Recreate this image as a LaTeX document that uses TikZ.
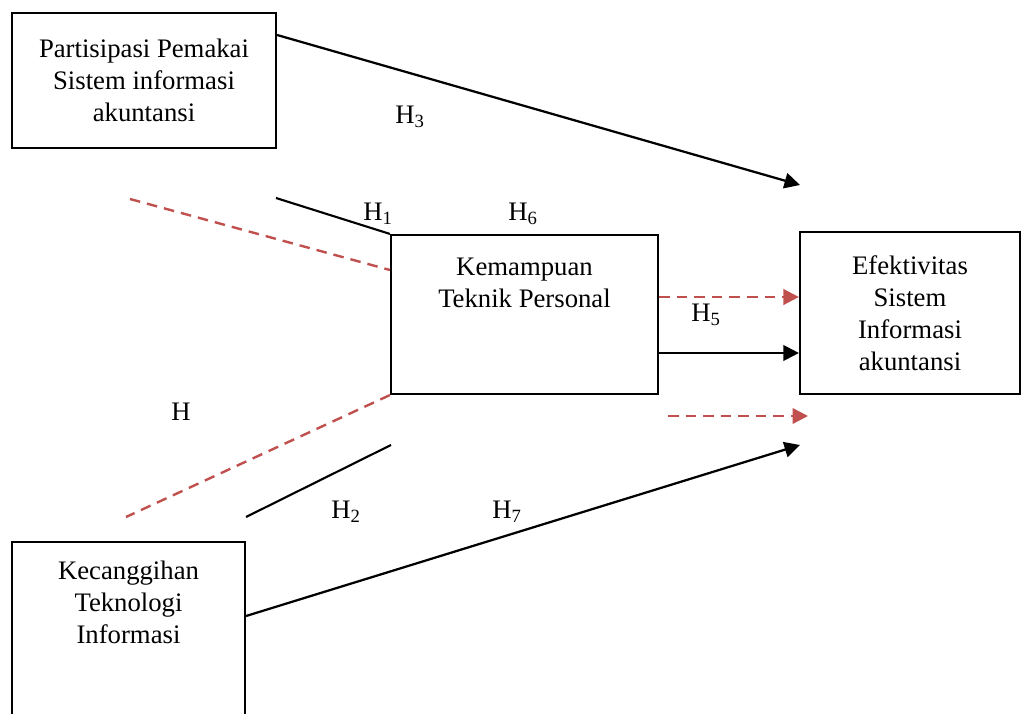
\documentclass[tikz,border=0pt]{standalone}
\usepackage{fontspec}
\setmainfont{Liberation Serif}
\usetikzlibrary{arrows.meta}
\definecolor{hypred}{HTML}{C0504D}

\begin{document}
\begin{tikzpicture}[
    x=0.025cm, y=-0.025cm,
    base/.style = {rectangle, draw=black, line width=1.5pt, align=center,
      inner sep=0pt, font=\fontsize{19}{22.7}\selectfont},
    hyp/.style = {inner sep=0pt, font=\fontsize{19}{22.7}\selectfont},
    solid link/.style = {line width=1.6pt, -{Triangle[length=11pt,width=11pt]}},
    bare/.style = {line width=1.5pt},
    dash link/.style = {line width=1.7pt, draw=hypred, dash pattern=on 7.5pt off 5pt},
    dash arrow/.style = {dash link, -{Triangle[length=11pt,width=11pt,fill=hypred]}}
]
  \useasboundingbox (0,0) rectangle (1022,714);

  \node (ppsi)  [base, minimum width=6.6cm, minimum height=3.375cm] at (144,80.5)
    {Partisipasi Pemakai\\Sistem informasi\\akuntansi};
  \node (ktp)   [base, minimum width=6.675cm, minimum height=3.975cm] at (524.5,314.5)
    {Kemampuan\\Teknik Personal\\~\\~};
  \node (esia)  [base, minimum width=5.5cm, minimum height=4.05cm] at (910,313)
    {Efektivitas\\Sistem\\Informasi\\akuntansi};
  \node (kti)   [base, minimum width=5.825cm, minimum height=5.4cm] at (128.5,650)
    {Kecanggihan\\Teknologi\\Informasi\\~\\~\\~};

  % free ends
  \coordinate (t3) at (800,185);
  \coordinate (s1) at (276,198);
  \coordinate (d1) at (130,199);
  \coordinate (d2) at (126,517);
  \coordinate (s2) at (246,517);
  \coordinate (e2) at (391,445);
  \coordinate (t7) at (800,445);
  \coordinate (d6) at (668,416);
  \coordinate (t6) at (808,416);

  \draw[solid link] (ppsi.east |- 0,35) -- (t3);
  \draw[bare]       (s1) -- (ktp.north west);
  \draw[dash link]  (d1) -- (ktp.west |- 0,270);
  \draw[dash link]  (ktp.south west) -- (d2);
  \draw[bare]       (e2) -- (s2);
  \draw[dash arrow] (ktp.east |- 0,297) -- (esia.west |- 0,297);
  \draw[solid link] (ktp.east |- 0,353) -- (esia.west |- 0,353);
  \draw[dash arrow] (d6) -- (t6);
  \draw[solid link] (kti.east |- 0,616) -- (t7);

  \node (h3) [hyp] at (410,117) {H\textsubscript{3}};
  \node (h1) [hyp] at (378,214) {H\textsubscript{1}};
  \node (h6) [hyp] at (523,214) {H\textsubscript{6}};
  \node (h5) [hyp] at (706,315) {H\textsubscript{5}};
  \node (h4) [hyp] at (181,412) {H};
  \node (h2) [hyp] at (346,512) {H\textsubscript{2}};
  \node (h7) [hyp] at (507,512) {H\textsubscript{7}};

\end{tikzpicture}
\end{document}
